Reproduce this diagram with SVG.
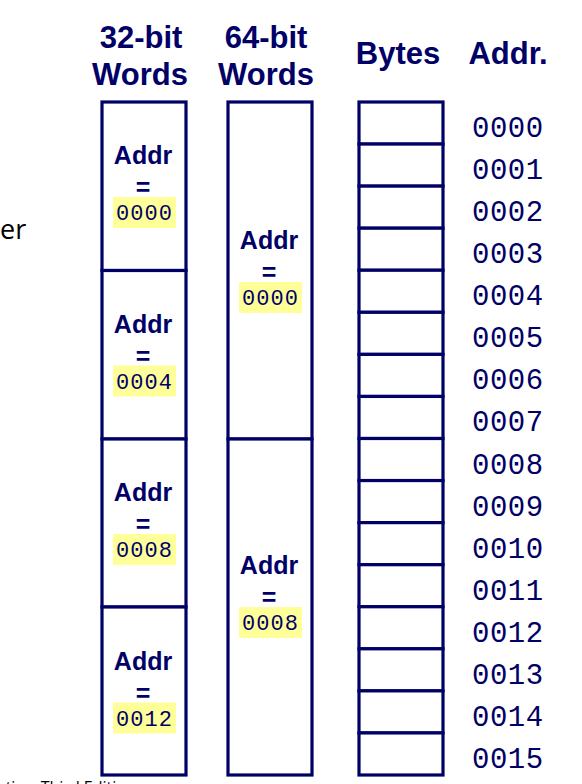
<svg xmlns="http://www.w3.org/2000/svg" width="582" height="784" viewBox="0 0 582 784">
<style>
.bg{fill:#ffffff}
.cell{fill:#ffffff;stroke:#000066;stroke-width:3.2}
.hdr{font-family:"Liberation Sans",Arial,sans-serif;font-weight:bold;font-size:31px;fill:#000066;text-anchor:middle}
.lbl{font-family:"Liberation Sans",Arial,sans-serif;font-weight:bold;font-size:25px;fill:#000066;text-anchor:middle}
.hl{fill:#ffff99}
.hnum{font-family:"Liberation Mono","Courier New",monospace;font-size:22px;fill:#000066;text-anchor:middle;letter-spacing:1px}
.anum{font-family:"Liberation Mono","Courier New",monospace;font-size:29px;fill:#000066;letter-spacing:0.5px}
.slide{font-family:"Open Sans","Liberation Sans",sans-serif;fill:#000000}
</style>
<rect class="bg" x="0" y="0" width="582" height="784"/>
<text class="slide" x="0" y="239" font-size="27">er</text>
<text class="slide" x="-2" y="793" font-size="16">ctive, Third Edition</text>

<g id="headers">
<text class="hdr" x="141" y="48">32-bit</text>
<text class="hdr" x="140" y="85">Words</text>
<text class="hdr" x="266" y="48">64-bit</text>
<text class="hdr" x="266" y="85">Words</text>
<text class="hdr" x="398" y="64">Bytes</text>
<text class="hdr" x="508" y="64">Addr.</text>
</g>

<g id="connectors"></g>

<g id="w32-0000"><rect class="cell" x="102" y="102" width="84" height="168.5"/><text class="lbl" x="143" y="164">Addr</text><text class="lbl" x="143" y="196">=</text><rect class="hl" x="113" y="197" width="63" height="31"/><text class="hnum" x="144.5" y="220">0000</text></g>
<g id="w32-0004"><rect class="cell" x="102" y="270.5" width="84" height="168.5"/><text class="lbl" x="143" y="332.5">Addr</text><text class="lbl" x="143" y="364.5">=</text><rect class="hl" x="113" y="365.5" width="63" height="31"/><text class="hnum" x="144.5" y="388.5">0004</text></g>
<g id="w32-0008"><rect class="cell" x="102" y="439" width="84" height="168"/><text class="lbl" x="143" y="501">Addr</text><text class="lbl" x="143" y="533">=</text><rect class="hl" x="113" y="534" width="63" height="31"/><text class="hnum" x="144.5" y="557">0008</text></g>
<g id="w32-0012"><rect class="cell" x="102" y="607" width="84" height="168"/><text class="lbl" x="143" y="669.5">Addr</text><text class="lbl" x="143" y="701.5">=</text><rect class="hl" x="113" y="702.5" width="63" height="31"/><text class="hnum" x="144.5" y="725.5">0012</text></g>

<g id="w64-0000"><rect class="cell" x="228" y="102" width="84" height="337"/><text class="lbl" x="269" y="249">Addr</text><text class="lbl" x="269" y="281">=</text><rect class="hl" x="239" y="282" width="63" height="31"/><text class="hnum" x="270.5" y="305">0000</text></g>
<g id="w64-0008"><rect class="cell" x="228" y="439" width="84" height="336"/><text class="lbl" x="269" y="574">Addr</text><text class="lbl" x="269" y="606">=</text><rect class="hl" x="239" y="607" width="63" height="31"/><text class="hnum" x="270.5" y="630">0008</text></g>

<g id="b0000"><rect class="cell" x="359" y="102" width="84" height="42.06"/><text class="anum" x="472" y="137">0000</text></g>
<g id="b0001"><rect class="cell" x="359" y="144.06" width="84" height="42.06"/><text class="anum" x="472" y="179.06">0001</text></g>
<g id="b0002"><rect class="cell" x="359" y="186.13" width="84" height="42.06"/><text class="anum" x="472" y="221.13">0002</text></g>
<g id="b0003"><rect class="cell" x="359" y="228.19" width="84" height="42.06"/><text class="anum" x="472" y="263.19">0003</text></g>
<g id="b0004"><rect class="cell" x="359" y="270.25" width="84" height="42.06"/><text class="anum" x="472" y="305.25">0004</text></g>
<g id="b0005"><rect class="cell" x="359" y="312.31" width="84" height="42.06"/><text class="anum" x="472" y="347.31">0005</text></g>
<g id="b0006"><rect class="cell" x="359" y="354.38" width="84" height="42.06"/><text class="anum" x="472" y="389.38">0006</text></g>
<g id="b0007"><rect class="cell" x="359" y="396.44" width="84" height="42.06"/><text class="anum" x="472" y="431.44">0007</text></g>
<g id="b0008"><rect class="cell" x="359" y="438.5" width="84" height="42.06"/><text class="anum" x="472" y="473.5">0008</text></g>
<g id="b0009"><rect class="cell" x="359" y="480.56" width="84" height="42.06"/><text class="anum" x="472" y="515.56">0009</text></g>
<g id="b0010"><rect class="cell" x="359" y="522.63" width="84" height="42.06"/><text class="anum" x="472" y="557.63">0010</text></g>
<g id="b0011"><rect class="cell" x="359" y="564.69" width="84" height="42.06"/><text class="anum" x="472" y="599.69">0011</text></g>
<g id="b0012"><rect class="cell" x="359" y="606.75" width="84" height="42.06"/><text class="anum" x="472" y="641.75">0012</text></g>
<g id="b0013"><rect class="cell" x="359" y="648.81" width="84" height="42.06"/><text class="anum" x="472" y="683.81">0013</text></g>
<g id="b0014"><rect class="cell" x="359" y="690.88" width="84" height="42.06"/><text class="anum" x="472" y="725.88">0014</text></g>
<g id="b0015"><rect class="cell" x="359" y="732.94" width="84" height="42.06"/><text class="anum" x="472" y="767.94">0015</text></g>
</svg>
